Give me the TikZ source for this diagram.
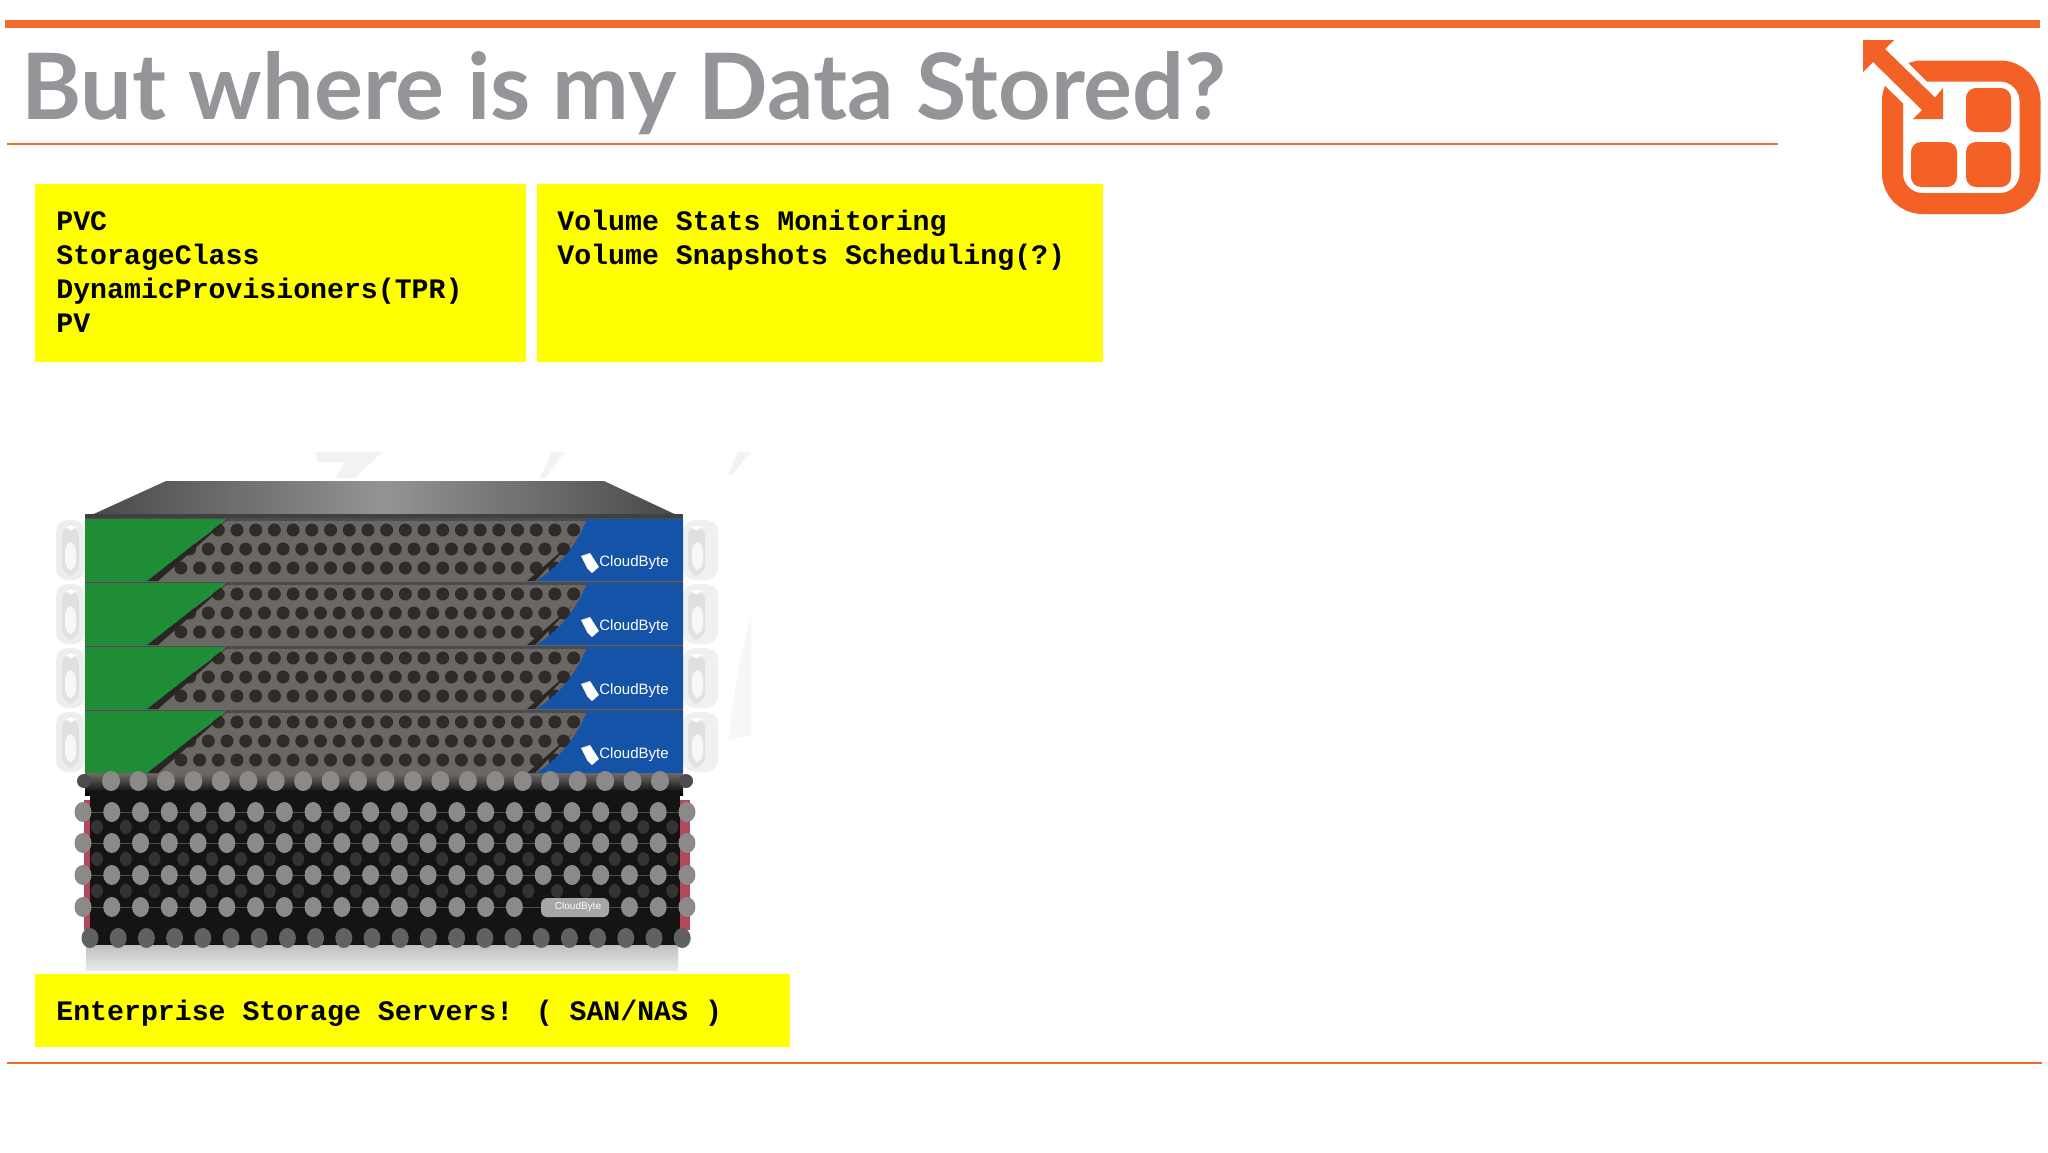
\documentclass[tikz,border=0pt]{standalone}
\usepackage{fontspec}
\setmainfont{Liberation Mono}
\newfontfamily\titlefont{Lato}
\newfontfamily\brandfont{Liberation Sans}
\usepackage{tikz}
\usetikzlibrary{calc, shapes}

\definecolor{rule}{HTML}{F26B2E}
\definecolor{logo}{HTML}{F36127}
\definecolor{titlegray}{HTML}{939598}
\definecolor{notefill}{RGB}{255,255,0}
\definecolor{panel}{HTML}{6B6765}
\definecolor{hole}{HTML}{2E2B29}
\definecolor{greenbit}{HTML}{1F8C36}
\definecolor{bluebit}{HTML}{1553A8}
\definecolor{stud}{HTML}{8C8A88}
\definecolor{edgered}{HTML}{B04A5A}

\begin{document}
\begin{tikzpicture}[x=0.5pt, y=-0.5pt]

    \tikzstyle{note}=[fill=notefill, inner sep=0pt, anchor=north west];
    \tikzstyle{mono}=[font=\fontsize{14.1pt}{17pt}\selectfont\bfseries, align=left, anchor=north west, inner sep=0pt, text=black];
    \tikzstyle{brand}=[font=\brandfont\fontsize{7.5pt}{8pt}\selectfont, text=white, inner sep=0pt];

    \useasboundingbox (0,0) rectangle (2048,1152);
    \fill[white] (0,0) rectangle (2048,1152);

    % rules
    \coordinate (topa) at (5,24);
    \coordinate (topb) at (2040,24);
    \coordinate (mida) at (7,144);
    \coordinate (midb) at (1778,144);
    \coordinate (bota) at (7,1063);
    \coordinate (botb) at (2042,1063);
    \draw[rule, line width=4pt] (topa) -- (topb);
    \draw[rule, line width=1pt] (mida) -- (midb);
    \draw[rule, line width=1pt] (bota) -- (botb);

    \node[anchor=base west, inner sep=0pt, text=titlegray, font=\titlefont\bfseries\fontsize{45.8pt}{50pt}\selectfont] (title) at (21,119) {But where is my Data Stored?};

    % logo
    \draw[logo, line width=10.5pt, rounded corners=15pt] (1892.5,71) rectangle (2030,203.5);
    \fill[logo, rounded corners=5pt] (1966,88) rectangle (2011,132);
    \fill[logo, rounded corners=5pt] (1911,142) rectangle (1957,187);
    \fill[logo, rounded corners=5pt] (1966,142) rectangle (2011,187);
    \fill[white] (1898,53) -- (1960,115) -- (1915,115) -- (1875,76) -- cycle;
    \fill[logo] (1863,40) -- (1894,40) -- (1885,49) -- (1935,97.5) -- (1943,88) -- (1943,119) -- (1913,119) -- (1922,110) -- (1873,62) -- (1863,72) -- cycle;

    % yellow boxes
    \node[note, minimum width=245.5pt, minimum height=89pt] (pvcbox) at (35,184) {};
    \node[note, minimum width=283pt, minimum height=89pt] (volbox) at (537,184) {};
    \node[note, minimum width=377.5pt, minimum height=36.5pt] (sanbox) at (35,974) {};
    \node[mono] (pvctext) at ($(pvcbox.north west)+(21,27)$) {PVC\\StorageClass\\DynamicProvisioners(TPR)\\PV};
    \node[mono] (voltext) at ($(volbox.north west)+(20,26)$) {Volume Stats Monitoring\\Volume Snapshots Scheduling(?)};
    \node[mono, anchor=west] (santext) at ($(sanbox.west)+(21,2)$) {Enterprise Storage Servers! ( SAN/NAS )};

    % faint marks behind the server
    \fill[black!5] (315,452) -- (382,452) -- (355,478) -- (335,478) -- (345,462) -- (318,462) -- cycle;
    \fill[black!5] (552,452) -- (565,452) -- (545,478) -- (540,478) -- cycle;
    \fill[black!5] (738,452) -- (751,452) -- (733,474) -- (728,474) -- cycle;
    \fill[black!3] (751,615) -- (751,735) -- (728,740) -- (738,670) -- cycle;

    % handles
    \foreach \y in {518,582,646,710} {
        \fill[black!7, rounded corners=6pt] (56,\y+2) rectangle (85,\y+62);
        \fill[black!12, rounded corners=6pt] (62,\y+6) rectangle (79,\y+58);
        \fill[white, rounded corners=3pt] (66,\y+7) rectangle (76,\y+12);
        \fill[black!3, rounded corners=4pt] (65,\y+24) rectangle (76,\y+52);
        \fill[black!6, rounded corners=6pt] (683,\y+2) rectangle (718,\y+62);
        \fill[black!12, rounded corners=6pt] (688,\y+6) rectangle (705,\y+58);
        \fill[white, rounded corners=3pt] (691,\y+7) rectangle (702,\y+12);
        \fill[black!3, rounded corners=4pt] (692,\y+24) rectangle (703,\y+52);
    }

    % lid
    \shade[left color=black!72, right color=black!72, middle color=black!42] (166,481) -- (604,481) -- (683,518) -- (85,518) -- cycle;
    \fill[black!75] (85,514) rectangle (683,518);

    % the four front units
    \foreach \y/\ly in {518/563, 582/627, 646/691, 710/755} {
        \fill[panel] (85,\y) rectangle (683,\y+64);
        \fill[black!70] (85,\y) rectangle (683,\y+3);
        \foreach \r in {0,2} {
            \foreach \i in {-3,...,23} {
                \fill[hole] (237+\i*18.7,\y+12+\r*19) circle (6.5);
            }
        }
        \foreach \i in {-3,...,24} {
            \fill[hole] (227+\i*18.7,\y+31) circle (6.5);
        }
        \fill[black!85] (228,\y+1) -- (158,\y+63) -- (145,\y+63) -- cycle;
        \fill[greenbit] (85,\y+1) -- (226,\y+1) -- (147,\y+63) -- (85,\y+63) -- cycle;
        \fill[black!85] (572,\y+24) -- (535,\y+63) -- (527,\y+63) -- cycle;
        \fill[bluebit] (587,\y+1) -- (683,\y+1) -- (683,\y+63) -- (536,\y+63) .. controls (560,\y+48) and (576,\y+28) .. (587,\y+1) -- cycle;
        \fill[white] (581,\ly-7) -- (590,\ly-10) -- (599,\ly+4) -- (592,\ly+10) -- (587,\ly+5) -- cycle;
        \node[brand, anchor=west] (cb\y) at (599,\ly) {CloudByte};
    }

    % lower chassis
    \shade[top color=black!25, bottom color=black!8] (86,945) rectangle (678,970);
    \shade[top color=panel, bottom color=black] (85,774) rectangle (683,795);
    \fill[edgered] (84,800) rectangle (690,930);
    \fill[black!92] (90,790) rectangle (680,945);
    \foreach \y in {812,843,875,907} {
        \draw[black!70, line width=0.5pt] (90,\y) -- (680,\y);
    }
    \foreach \y in {827,859,891} {
        \foreach \i in {0,...,20} {
            \fill[black!80] (97+\i*28.76,\y) ellipse (6 and 7);
        }
    }
    \foreach \i in {0,...,20} {
        \fill[stud] (111+\i*27.45,781) ellipse (9 and 10);
    }
    \fill[black!70] (84,781) circle (7);
    \fill[black!70] (686,781) circle (7);
    \foreach \y in {812,843,875} {
        \foreach \i in {0,...,21} {
            \fill[stud] (83+\i*28.76,\y) ellipse (8.5 and 10);
        }
    }
    \foreach \i in {0,...,21} {
        \ifnum\i=16 \else\ifnum\i=17 \else\ifnum\i=18 \else
            \fill[stud] (83+\i*28.76,907) ellipse (8.5 and 10);
        \fi\fi\fi
    }
    \foreach \i in {0,...,21} {
        \fill[black!62] (90+\i*28.2,938) ellipse (8.5 and 10);
    }
    \fill[black!35, rounded corners=3pt] (541,898) rectangle (609,917);
    \node[brand, text=white, font=\brandfont\fontsize{5pt}{6pt}\selectfont] (cbsmall) at (578,907) {CloudByte};

\end{tikzpicture}
\end{document}
